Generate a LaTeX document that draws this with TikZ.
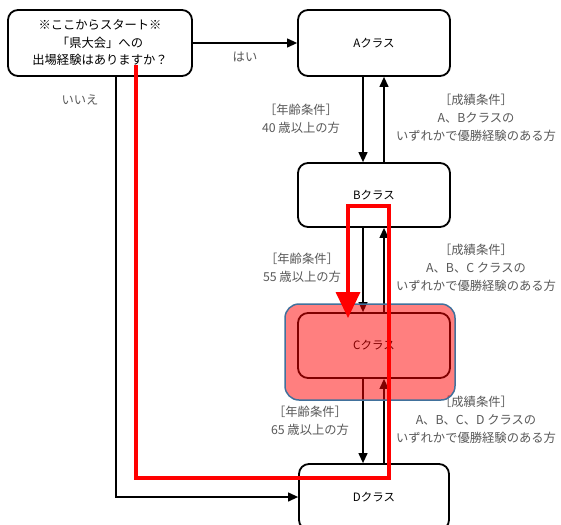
\documentclass[tikz,border=0pt]{standalone}
\usepackage{fontspec}
\setmainfont{Noto Sans CJK JP}
\usetikzlibrary{arrows.meta}
\definecolor{lbl}{HTML}{595959}
\definecolor{hlblue}{HTML}{41719C}
\tikzset{
  classbox/.style={draw=black, line width=1.8pt, rounded corners=10pt, fill=white, font=\fontsize{11.5}{14}\selectfont, text=black, inner sep=0pt},
  flow/.style={draw=black, line width=1.2pt, -{Triangle[length=10pt,width=9pt]}},
  lab/.style={text=lbl, font=\fontsize{12.3}{17.8}\selectfont, align=center, inner sep=0pt},
  redpath/.style={draw=red, line width=3.5pt, line join=miter, -{Triangle[length=26pt,width=24pt]}},
  hilite/.style={draw=hlblue, line width=1.5pt, fill=red, fill opacity=0.5, rounded corners=14pt}
}
\begin{document}
\begin{tikzpicture}[x=1pt,y=-1pt]
\useasboundingbox (0,0) rectangle (561,524);
\fill[white] (0,0) rectangle (561,524);
\clip (0,0) rectangle (561,524);
% boxes
\node[classbox, minimum width=184pt, minimum height=66pt, align=center, font=\fontsize{12.3}{17.5}\selectfont] (S) at (100,43) {※ここからスタート※\\「県大会」への\\出場経験はありますか？};
\node[classbox, minimum width=152pt, minimum height=66pt] (A) at (374,43) {Aクラス};
\node[classbox, minimum width=152pt, minimum height=64pt] (B) at (374,195) {Bクラス};
\node[classbox, minimum width=152pt, minimum height=65pt] (C) at (374,345.5) {Cクラス};
\node[classbox, minimum width=150pt, minimum height=66pt] (D) at (374,497) {Dクラス};
% helper coordinates
\coordinate (dn) at (363,0);
\coordinate (up) at (384,0);
\coordinate (no) at (116,0);
% start connectors
\draw[flow] (S.east) -- (A.west);
\node[lab] (yes) at (245,57) {はい};
\draw[flow] (S.south -| no) |- (D.west);
\node[lab] (nolab) at (80,100) {いいえ};
% A-B
\draw[flow] (A.south -| dn) -- (B.north -| dn);
\draw[flow] (B.north -| up) -- (A.south -| up);
\node[lab] (ageAB) at (301,119) {［年齢条件］\\40 歳以上の方};
\node[lab] (perfAB) at (476,118) {［成績条件］\\A、Bクラスの\\いずれかで優勝経験のある方};
% B-C
\draw[flow] (B.south -| dn) -- (C.north -| dn);
\draw[flow] (C.north -| up) -- (B.south -| up);
\node[lab] (ageBC) at (302,268) {［年齢条件］\\55 歳以上の方};
\node[lab] (perfBC) at (476,268) {［成績条件］\\A、B、C クラスの\\いずれかで優勝経験のある方};
% C-D
\draw[flow] (C.south -| dn) -- (D.north -| dn);
\draw[flow] (D.north -| up) -- (C.south -| up);
\node[lab] (ageCD) at (310,421) {［年齢条件］\\65 歳以上の方};
\node[lab] (perfCD) at (476,420) {［成績条件］\\A、B、C、D クラスの\\いずれかで優勝経験のある方};
% highlight
\draw[hilite] (285,304) rectangle (455,400);
% red route
\coordinate (r0) at (136,65);
\coordinate (r1) at (136,478);
\coordinate (r2) at (389,478);
\coordinate (r3) at (389,206);
\coordinate (r4) at (348,206);
\coordinate (r5) at (348,318);
\draw[redpath] (r0) -- (r1) -- (r2) -- (r3) -- (r4) -- (r5);
\end{tikzpicture}
\end{document}
